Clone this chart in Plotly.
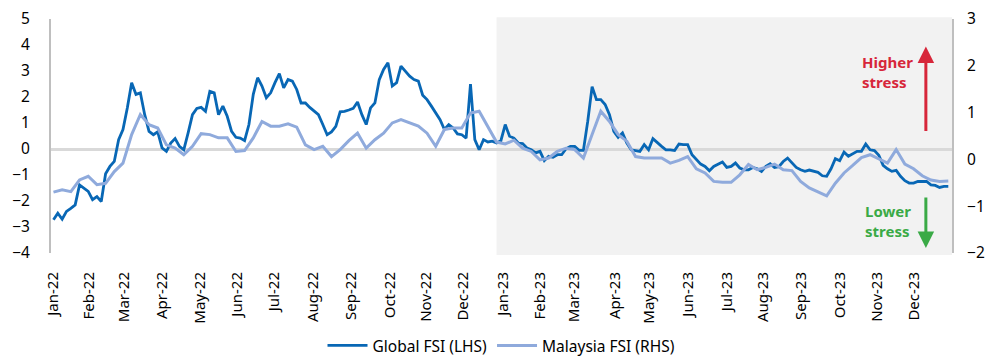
import pandas as pd
import plotly.graph_objects as go

# ---- data (Jan 2022 - Dec 2023) ----
start_date = "2022-01-03"
end_date = "2023-12-29"
n_global = 207     # roughly twice-weekly readings
n_malaysia = 104   # roughly weekly readings

global_fsi = [
    -2.72, -2.47, -2.70, -2.40, -2.28, -2.15, -1.38, -1.50, -1.63, -1.95,
    -1.83, -2.02, -0.95, -0.67, -0.48, 0.36, 0.75, 1.58, 2.55, 2.10,
    2.16, 1.32, 0.68, 0.55, 0.66, 0.04, -0.09, 0.23, 0.40, 0.10,
    -0.03, 0.62, 1.32, 1.56, 1.60, 1.45, 2.22, 2.16, 1.32, 1.65,
    1.26, 0.68, 0.45, 0.42, 0.32, 0.94, 2.10, 2.74, 2.42, 1.97,
    2.16, 2.55, 2.90, 2.35, 2.67, 2.61, 2.29, 1.77, 1.77, 1.60,
    1.45, 1.32, 0.94, 0.55, 0.66, 0.87, 1.43, 1.45, 1.50, 1.56,
    1.81, 1.32, 0.94, 1.58, 1.77, 2.67, 3.06, 3.32, 2.42, 2.55,
    3.19, 3.00, 2.80, 2.67, 2.61, 2.07, 1.90, 1.65, 1.39, 1.13,
    0.75, 0.94, 0.81, 0.58, 0.55, 0.42, 2.50, 0.36, -0.03, 0.36,
    0.27, 0.30, 0.23, 0.32, 0.94, 0.49, 0.42, 0.23, 0.21, 0.04,
    -0.03, -0.15, -0.09, -0.45, -0.28, -0.32, -0.22, -0.22, 0.01, 0.10,
    0.10, -0.05, -0.05, 1.07, 2.40, 1.90, 1.90, 1.71, 1.32, 0.68,
    0.45, 0.62, 0.23, -0.03, -0.06, -0.09, 0.17, -0.03, 0.40, 0.23,
    0.10, -0.03, -0.03, -0.06, 0.19, 0.17, 0.17, -0.22, -0.41, -0.58,
    -0.67, -0.84, -0.67, -0.58, -0.50, -0.71, -0.67, -0.54, -0.73, -0.80,
    -0.80, -0.71, -0.76, -0.86, -0.67, -0.57, -0.71, -0.68, -0.48, -0.35,
    -0.54, -0.71, -0.80, -0.86, -0.81, -0.86, -0.90, -1.03, -1.05, -0.76,
    -0.37, -0.45, -0.12, -0.28, -0.17, -0.09, -0.09, 0.19, -0.03, -0.06,
    -0.24, -0.63, -0.76, -0.86, -0.82, -1.05, -1.22, -1.31, -1.31, -1.25,
    -1.25, -1.25, -1.38, -1.40, -1.48, -1.44, -1.44,
]

malaysia_fsi = [
    -0.70, -0.65, -0.69, -0.44, -0.36, -0.54, -0.51, -0.26, -0.08, 0.53,
    0.96, 0.74, 0.67, 0.31, 0.24, 0.10, 0.28, 0.55, 0.53, 0.46,
    0.46, 0.17, 0.19, 0.46, 0.81, 0.71, 0.71, 0.76, 0.69, 0.31,
    0.21, 0.28, 0.06, 0.21, 0.40, 0.56, 0.24, 0.42, 0.56, 0.78,
    0.85, 0.78, 0.71, 0.56, 0.28, 0.64, 0.67, 0.67, 0.99, 1.03,
    0.71, 0.37, 0.33, 0.41, 0.24, 0.17, -0.01, 0.03, 0.17, 0.24,
    0.21, 0.03, 0.53, 1.03, 0.81, 0.53, 0.39, 0.06, 0.03, 0.03,
    0.03, -0.08, -0.02, 0.06, -0.20, -0.29, -0.47, -0.49, -0.49, -0.33,
    -0.11, -0.22, -0.17, -0.10, -0.22, -0.24, -0.47, -0.61, -0.69, -0.78,
    -0.51, -0.29, -0.13, 0.04, 0.10, 0.01, -0.08, 0.21, -0.10, -0.20,
    -0.35, -0.44, -0.47, -0.46,
]

global_dates = pd.date_range(start_date, end_date, periods=n_global)
malaysia_dates = pd.date_range(start_date, end_date, periods=n_malaysia)

month_ticks = pd.date_range("2022-01-01", "2023-12-01", freq="BMS")
month_labels = [d.strftime("%b-%y") for d in month_ticks]

series_names = ["Global FSI (LHS)", "Malaysia FSI (RHS)"]
shade_start = "2022-12-28"
shade_end = "2024-01-01"

# ---- figure ----
FONT = "Noto Sans"
fig = go.Figure()
fig.add_trace(go.Scatter(
    x=global_dates, y=global_fsi, name=series_names[0], mode="lines",
    line=dict(color="#0867B5", width=2.8), yaxis="y",
))
fig.add_trace(go.Scatter(
    x=malaysia_dates, y=malaysia_fsi, name=series_names[1], mode="lines",
    line=dict(color="#8FAADC", width=3), yaxis="y2",
))

fig.add_shape(type="rect", xref="x", yref="paper",
              x0=shade_start, x1=shade_end, y0=-0.009, y1=1.008,
              fillcolor="#F2F2F2", line_width=0, layer="below")

# page body has an 8px margin, so the figure is drawn 8px in from the corner
fig.update_layout(
    width=992, height=350,
    margin=dict(l=43, r=48, t=11, b=105, autoexpand=False),
    paper_bgcolor="white", plot_bgcolor="white",
    font=dict(family=FONT, color="#000000"),
    showlegend=True,
    legend=dict(orientation="h", x=0.5, xanchor="center",
                yref="paper", y=-0.397, yanchor="middle",
                font=dict(size=15.5, family=FONT, color="#000000"),
                itemwidth=40, tracegroupgap=0),
    xaxis=dict(
        type="date", range=["2022-01-01", "2024-01-01"],
        tickmode="array", tickvals=month_ticks, ticktext=month_labels,
        tickangle=-90, tickfont=dict(size=15, family=FONT),
        ticks="outside", ticklen=12, tickcolor="rgba(0,0,0,0)",
        showgrid=False, showline=False, zeroline=False, automargin=False,
        ticklabeloverflow="allow",
    ),
    yaxis=dict(
        range=[-4, 5], dtick=1, tick0=0,
        tickfont=dict(size=15.5, family=FONT),
        ticks="outside", ticklen=16, tickcolor="rgba(0,0,0,0)",
        showgrid=False, showline=True, linecolor="#BFBFBF", linewidth=2,
        zeroline=True, zerolinecolor="#D9D9D9", zerolinewidth=3,
        automargin=False, ticklabeloverflow="allow",
    ),
    yaxis2=dict(
        range=[-2, 3], dtick=1, tick0=0, overlaying="y", side="right",
        tickfont=dict(size=15.5, family=FONT),
        ticks="outside", ticklen=10, tickcolor="rgba(0,0,0,0)",
        showgrid=False, showline=True, linecolor="#BFBFBF", linewidth=2,
        zeroline=False, automargin=False, ticklabeloverflow="allow",
    ),
)

RED = "#D7263A"
GREEN = "#3AAA46"
fig.add_annotation(xref="paper", yref="paper", x=0.898, y=0.773,
                   text="<b>Higher<br>stress</b>", showarrow=False,
                   xanchor="left", yanchor="middle", align="left",
                   font=dict(size=15, color=RED, family=FONT))
fig.add_annotation(xref="paper", yref="paper", x=0.901, y=0.135,
                   text="<b>Lower<br>stress</b>", showarrow=False,
                   xanchor="left", yanchor="middle", align="left",
                   font=dict(size=15, color=GREEN, family=FONT))
fig.add_annotation(xref="paper", yref="paper", x=0.971, y=0.882,
                   ax=0, ay=86, axref="pixel", ayref="pixel", text="",
                   showarrow=True, arrowhead=2, arrowsize=1.1,
                   arrowwidth=3, arrowcolor=RED)
fig.add_annotation(xref="paper", yref="paper", x=0.971, y=0.021,
                   ax=0, ay=-52, axref="pixel", ayref="pixel", text="",
                   showarrow=True, arrowhead=2, arrowsize=1.1,
                   arrowwidth=3, arrowcolor=GREEN)

fig.write_html("out.html")
